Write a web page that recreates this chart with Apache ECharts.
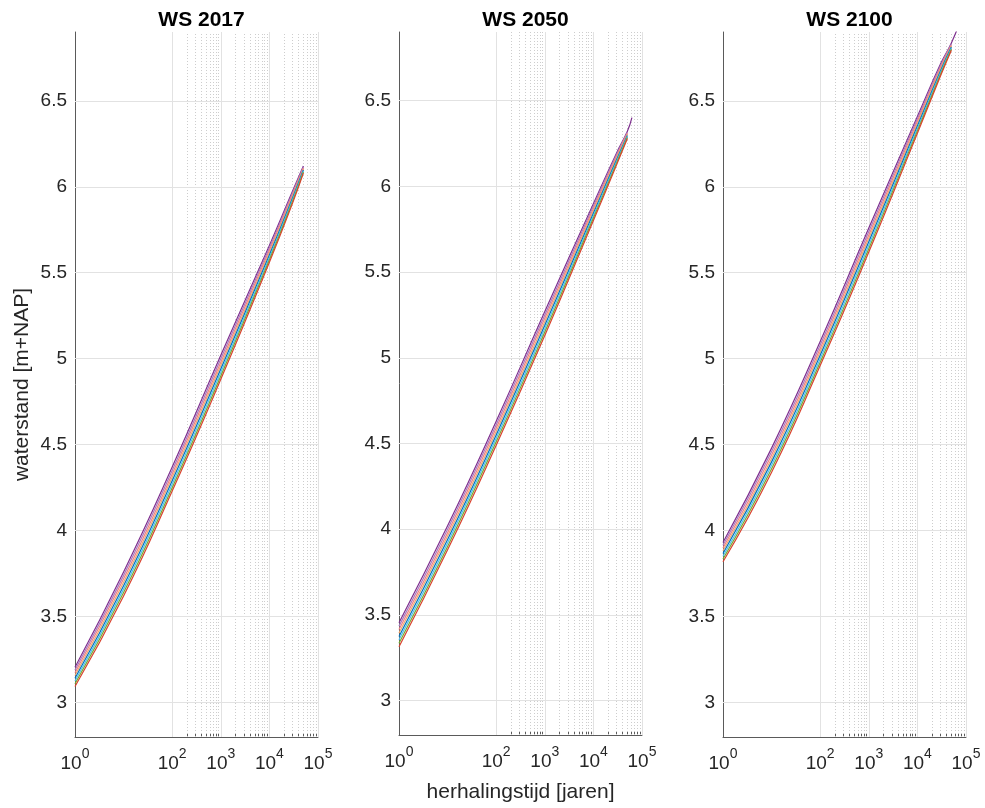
<!DOCTYPE html>
<html>
<head>
<meta charset="utf-8">
<script src="https://cdn.jsdelivr.net/npm/echarts@6/dist/echarts.min.js"></script>
<style>
html,body{margin:0;padding:0;background:#fff;}
#chart{width:985px;height:808px;}
</style>
</head>
<body>
<div id="chart"></div>
<script>
// ---------- data ----------
const panelTitles = ['WS 2017', 'WS 2050', 'WS 2100'];
const xTitle = 'herhalingstijd [jaren]';
const yTitle = 'waterstand [m+NAP]';

// return periods (jaren)
const TIMES = [1, 10, 100, 1000, 10000, 30000, 50000];

// 8 lines per panel (top -> bottom)
const ws2017 = [
  [3.206, 3.76, 4.37, 5.02, 5.659, 5.975, 6.121],
  [3.190, 3.74, 4.35, 5.00, 5.645, 5.965, 6.115],
  [3.174, 3.72, 4.33, 4.98, 5.631, 5.955, 6.109],
  [3.158, 3.70, 4.31, 4.96, 5.617, 5.945, 6.103],
  [3.142, 3.68, 4.29, 4.94, 5.603, 5.935, 6.097],
  [3.126, 3.66, 4.27, 4.92, 5.589, 5.925, 6.091],
  [3.110, 3.64, 4.25, 4.90, 5.575, 5.915, 6.085],
  [3.094, 3.62, 4.23, 4.88, 5.561, 5.905, 6.079]
];
const ws2050 = [
  [3.455, 4.02, 4.63, 5.27, 5.899, 6.195, 6.321],
  [3.435, 4.00, 4.61, 5.25, 5.885, 6.185, 6.315],
  [3.415, 3.98, 4.59, 5.23, 5.871, 6.175, 6.309],
  [3.395, 3.96, 4.57, 5.21, 5.857, 6.165, 6.303],
  [3.375, 3.94, 4.55, 5.19, 5.843, 6.155, 6.297],
  [3.355, 3.92, 4.53, 5.17, 5.829, 6.145, 6.291],
  [3.335, 3.90, 4.51, 5.15, 5.815, 6.135, 6.285],
  [3.315, 3.88, 4.49, 5.13, 5.801, 6.125, 6.279]
];
const ws2100 = [
  [3.931, 4.48, 5.10, 5.76, 6.409, 6.715, 6.836],
  [3.915, 4.46, 5.08, 5.74, 6.395, 6.705, 6.830],
  [3.899, 4.44, 5.06, 5.72, 6.381, 6.695, 6.824],
  [3.883, 4.42, 5.04, 5.70, 6.367, 6.685, 6.818],
  [3.867, 4.40, 5.02, 5.68, 6.353, 6.675, 6.812],
  [3.851, 4.38, 5.00, 5.66, 6.339, 6.665, 6.806],
  [3.835, 4.36, 4.98, 5.64, 6.325, 6.655, 6.800],
  [3.819, 4.34, 4.96, 5.62, 6.311, 6.645, 6.794]
];
// purple line continues a bit further in 2050 and 2100
const purpleTailTime = [null, 62000, 80000];
const purpleTailValue = [null, 6.40, 6.98];

const lineColors = ['#7E2F8E', '#A77BC0', '#EE7E86', '#F2A66B', '#0072BD', '#4DBEEE', '#77AC30', '#D9432F'];

const yTicks = [3, 3.5, 4, 4.5, 5, 5.5, 6, 6.5];
const xLabelTicks = [1, 100, 1000, 10000, 100000];
const xMajorTicks = [100, 1000, 10000];
const xMajorGrid = [100, 1000, 10000, 100000];
const xMinorTicks = [200, 300, 400, 500, 600, 700, 800, 900,
                     2000, 3000, 4000, 5000, 6000, 7000, 8000, 9000,
                     20000, 30000, 40000, 50000, 60000, 70000, 80000, 90000];

// ---------- layout ----------
const FONT = 'Liberation Sans, Arial, Helvetica, sans-serif';
const gridLefts = [75, 399, 723];
const GRID_W = 243, GRID_TOP = 32, GRID_H = 705;
const panels = [ws2017, ws2050, ws2100];

const grid = [], xAxis = [], yAxis = [], series = [], title = [];

gridLefts.forEach((left, g) => {
  grid.push({left: left, top: GRID_TOP, width: GRID_W, height: GRID_H, containLabel: false});
  title.push({
    text: panelTitles[g], left: left + GRID_W / 2, top: 5, textAlign: 'center',
    textStyle: {fontFamily: FONT, fontSize: 21, fontWeight: 'bold', color: '#000'}
  });
  // main x axis
  xAxis.push({
    type: 'log', logBase: 10, min: 1, max: 100000, gridIndex: g, position: 'bottom',
    name: g === 1 ? xTitle : '', nameLocation: 'middle', nameGap: 47,
    nameTextStyle: {fontFamily: FONT, fontSize: 21, color: '#262626'},
    axisLine: {show: true, lineStyle: {color: '#5a5a5a', width: 1}},
    axisTick: {show: true, inside: true, length: 7, customValues: xMajorTicks, lineStyle: {color: '#5a5a5a'}},
    axisLabel: {
      show: true, customValues: xLabelTicks, margin: 10,
      formatter: v => '{b|10}{s|' + Math.round(Math.log10(v)) + '}',
      rich: {
        b: {fontFamily: FONT, fontSize: 19, color: '#262626', lineHeight: 26, verticalAlign: 'bottom'},
        s: {fontFamily: FONT, fontSize: 14, color: '#262626', lineHeight: 26, verticalAlign: 'top'}
      }
    },
    splitLine: {show: false}, minorTick: {show: false}, minorSplitLine: {show: false}
  });
  // minor tick axis
  xAxis.push({
    type: 'log', logBase: 10, min: 1, max: 100000, gridIndex: g, position: 'bottom', offset: 0,
    axisLine: {show: false},
    axisTick: {show: true, inside: true, length: 3.5, customValues: xMinorTicks, lineStyle: {color: '#5a5a5a'}},
    axisLabel: {show: false}, splitLine: {show: false}
  });
  yAxis.push({
    type: 'value', min: 2.8, max: 6.9, gridIndex: g,
    name: g === 0 ? yTitle : '', nameLocation: 'middle', nameGap: 42,
    nameTextStyle: {fontFamily: FONT, fontSize: 21, color: '#262626'},
    axisLine: {show: true, lineStyle: {color: '#5a5a5a', width: 1}},
    axisTick: {show: true, inside: true, length: 7, customValues: yTicks, lineStyle: {color: '#5a5a5a'}},
    axisLabel: {show: true, customValues: yTicks, margin: 8, formatter: v => String(v),
      fontFamily: FONT, fontSize: 19, color: '#262626'},
    splitLine: {show: false}
  });

  // grid lines through the axes' scales
  const gl = [];
  xMajorGrid.forEach(v => gl.push({xAxis: v, lineStyle: {color: '#e2e2e2', type: 'solid', width: 1}}));
  xMinorTicks.forEach(v => gl.push({xAxis: v, lineStyle: {color: '#cdcdcd', type: [1, 2], width: 1}}));
  yTicks.forEach(v => gl.push({yAxis: v, lineStyle: {color: '#e2e2e2', type: 'solid', width: 1}}));
  series.push({
    type: 'line', xAxisIndex: 2 * g, yAxisIndex: g, data: [], silent: true, z: 1,
    markLine: {silent: true, z: 1, symbol: ['none', 'none'], label: {show: false}, animation: false, data: gl}
  });

  panels[g].forEach((vals, i) => {
    const data = TIMES.map((t, j) => [t, vals[j]]);
    if (i === 0 && purpleTailTime[g] !== null) data.push([purpleTailTime[g], purpleTailValue[g]]);
    series.push({
      type: 'line', xAxisIndex: 2 * g, yAxisIndex: g, data: data, z: 10,
      showSymbol: false, smooth: 0.5, clip: true,
      lineStyle: {color: lineColors[i], width: 1.2}, itemStyle: {color: lineColors[i]},
      animation: false
    });
  });
});

const chart = echarts.init(document.getElementById('chart'), null, {renderer: 'canvas'});
chart.setOption({
  backgroundColor: '#fff', animation: false,
  title: title, grid: grid, xAxis: xAxis, yAxis: yAxis, series: series
});
</script>
</body>
</html>
